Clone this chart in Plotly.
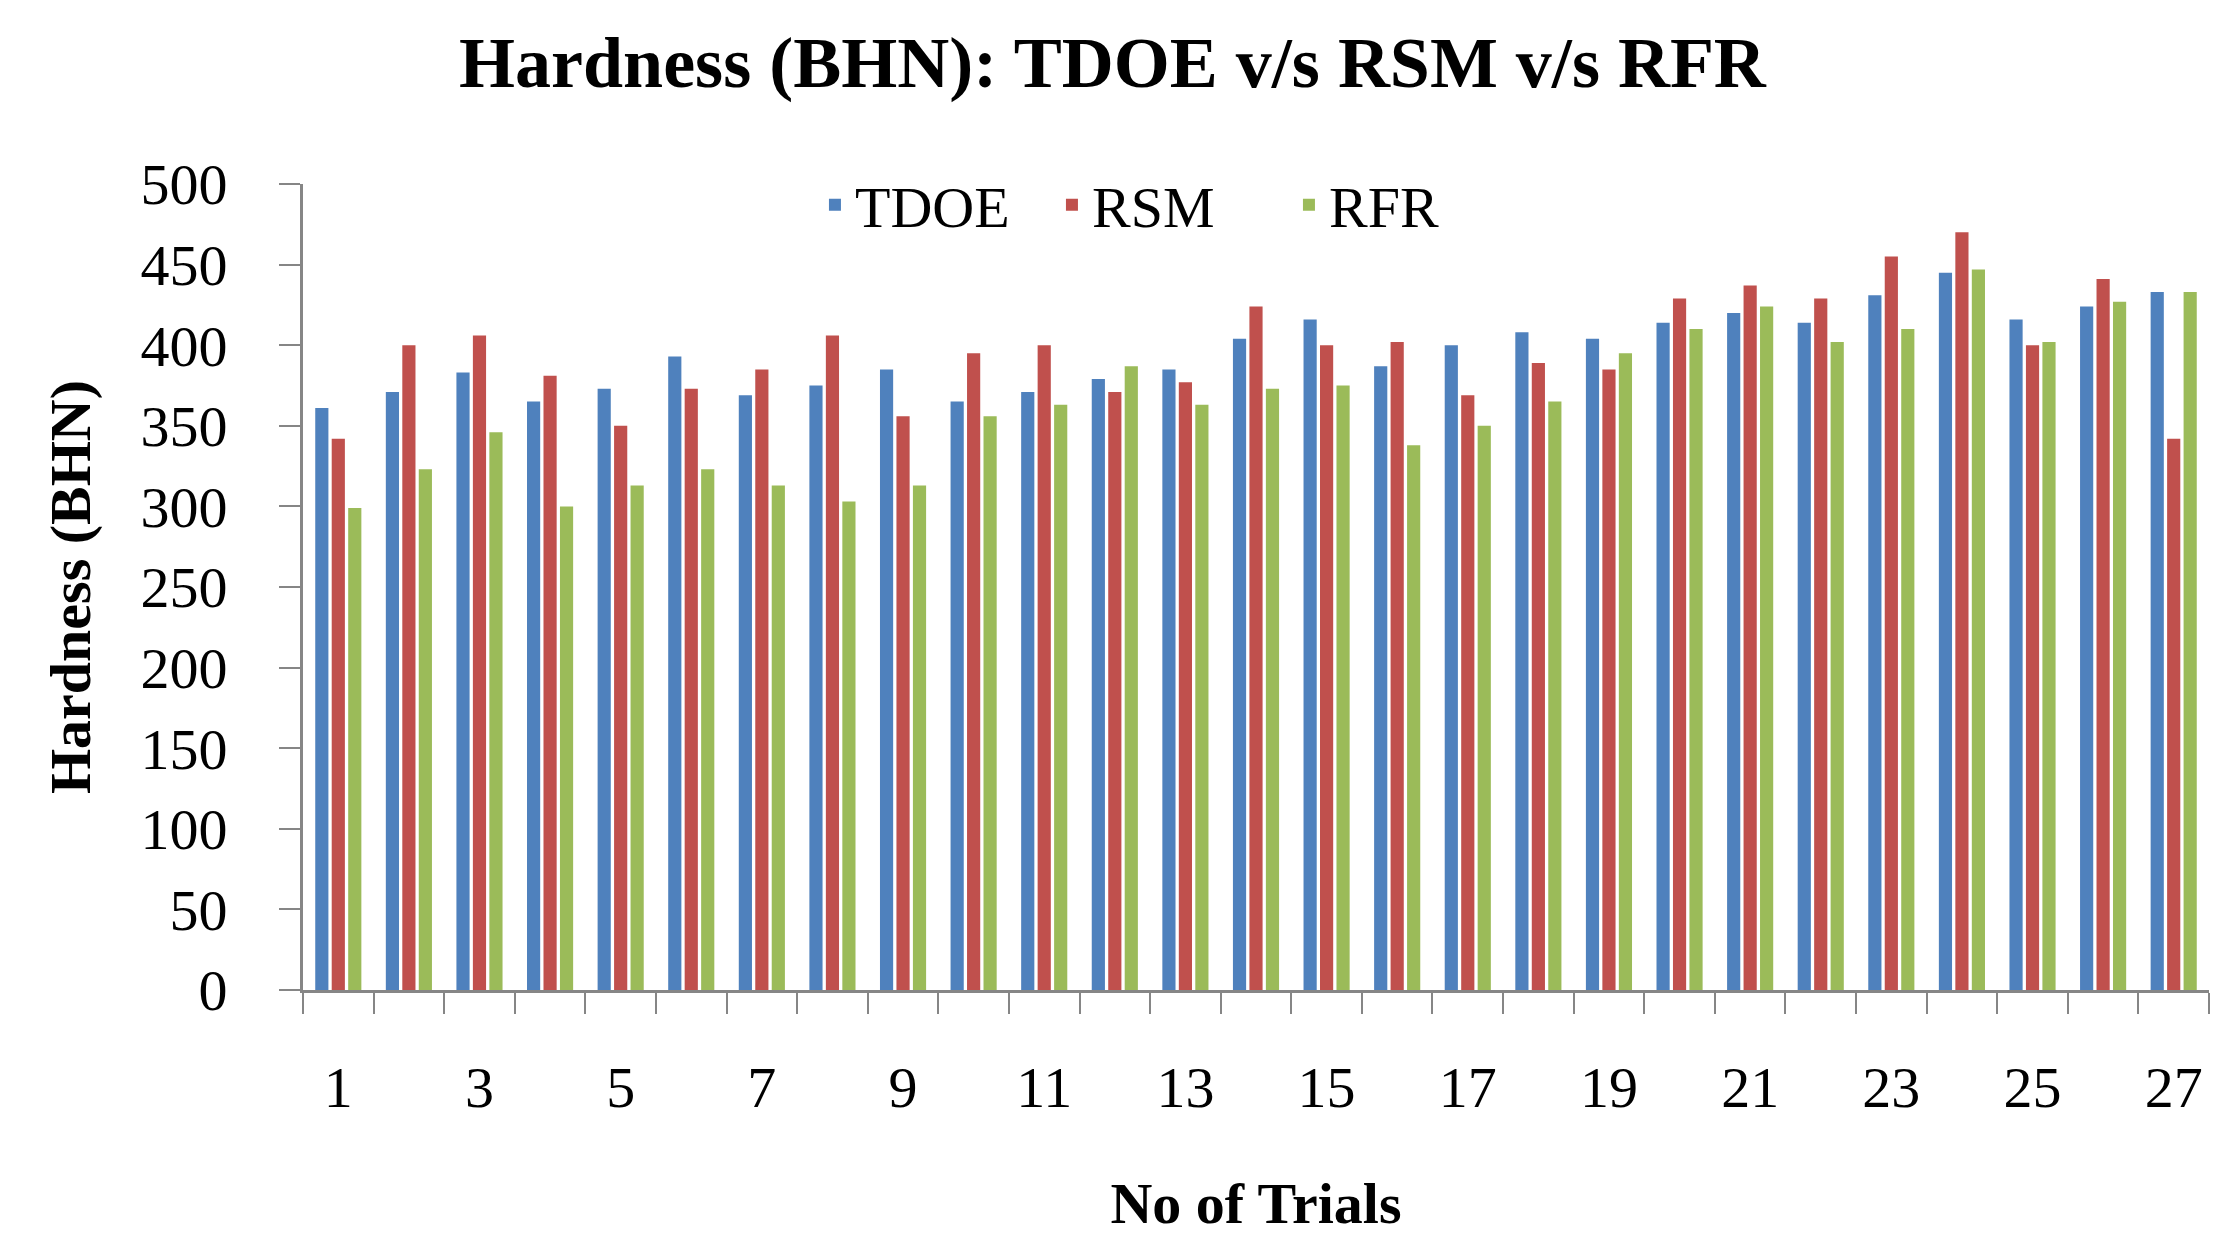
import plotly.graph_objects as go

trials = [1, 2, 3, 4, 5, 6, 7, 8, 9, 10, 11, 12, 13, 14, 15, 16, 17, 18, 19, 20, 21, 22, 23, 24, 25, 26, 27]
tdoe = [361, 371, 383, 365, 373, 393, 369, 375, 385, 365, 371, 379, 385, 404, 416, 387, 400, 408, 404, 414, 420, 414, 431, 445, 416, 424, 433]
rsm = [342, 400, 406, 381, 350, 373, 385, 406, 356, 395, 400, 371, 377, 424, 400, 402, 369, 389, 385, 429, 437, 429, 455, 470, 400, 441, 342]
rfr = [299, 323, 346, 300, 313, 323, 313, 303, 313, 356, 363, 387, 363, 373, 375, 338, 350, 365, 395, 410, 424, 402, 410, 447, 402, 427, 433]
label_ticks = [1, 3, 5, 7, 9, 11, 13, 15, 17, 19, 21, 23, 25, 27]
y_ticks = [0, 50, 100, 150, 200, 250, 300, 350, 400, 450, 500]

series = [("TDOE", tdoe, "#4F81BD"), ("RSM", rsm, "#C0504D"), ("RFR", rfr, "#9BBB59")]

FONT = "Liberation Serif"
AX = "#868686"

fig = go.Figure()
for name, vals, col in series:
    fig.add_trace(go.Bar(x=trials, y=vals, name=name, marker=dict(color=col, line=dict(width=0))))

fig.update_layout(
    width=2225, height=1256,
    margin=dict(l=303, r=16, t=184, b=266),
    paper_bgcolor="white", plot_bgcolor="white",
    barmode="group", bargap=0.3, bargroupgap=0.2,
    font=dict(family=FONT, size=58, color="black"),
    title=dict(text="<b>Hardness (BHN): TDOE v/s RSM v/s RFR</b>", x=0.5, xanchor="center",
               y=0.951, yanchor="middle", font=dict(family=FONT, size=72, color="black")),
    legend=dict(orientation="h", x=0.2686, xanchor="left", y=0.974, yanchor="middle",
                font=dict(family=FONT, size=58), bgcolor="rgba(0,0,0,0)", itemwidth=30,
                entrywidth=192, entrywidthmode="pixels"),
    showlegend=True,
)

fig.update_xaxes(
    range=[0.5, 27.5], tickmode="array", tickvals=label_ticks, ticktext=[str(v) for v in label_ticks],
    ticks="", ticklabelstandoff=44, showgrid=False, zeroline=False,
    showline=True, linecolor=AX, linewidth=3,
    minor=dict(ticks="outside", tickmode="linear", tick0=0.5, dtick=1, ticklen=21, tickwidth=2, tickcolor=AX, showgrid=False),
    title=dict(text="<b>No of Trials</b>", font=dict(family=FONT, size=58), standoff=64),
)
fig.update_yaxes(
    range=[0, 500], tickmode="array", tickvals=y_ticks, ticks="outside", ticklen=21, tickwidth=2, tickcolor=AX,
    ticklabelstandoff=40, showgrid=False, zeroline=False, showline=True, linecolor=AX, linewidth=3,
    title=dict(text="<b>Hardness (BHN)</b>", font=dict(family=FONT, size=58), standoff=32),
)

fig.write_html("out.html", config={"displayModeBar": False},
               post_script="document.body.style.margin='0';document.body.style.overflow='hidden';")
